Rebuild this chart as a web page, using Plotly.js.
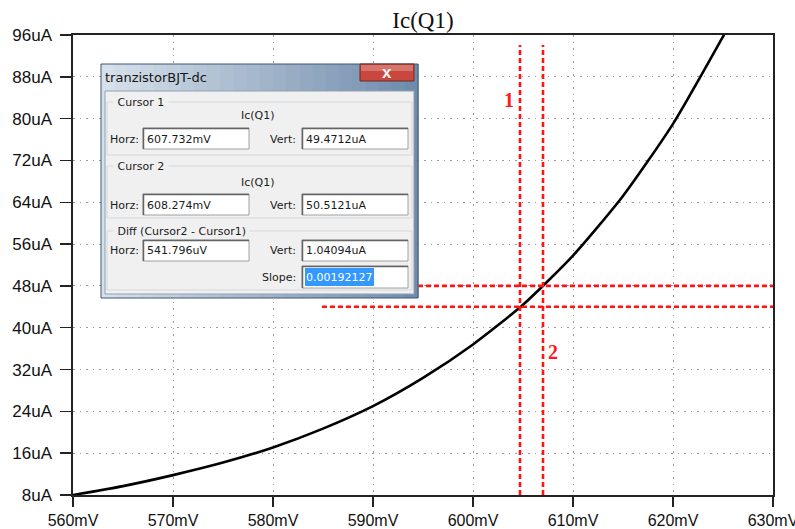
<!DOCTYPE html>
<html>
<head>
<meta charset="utf-8">
<script src="https://cdn.plot.ly/plotly-3.0.1.min.js"></script>
<style>
html,body{margin:0;padding:0;background:#fff;}
#chart{width:795px;height:529px;}
</style>
</head>
<body>
<div id="chart"></div>
<script>
// ---- data ----
const vbe_mV = [560, 565, 570, 575, 580, 585, 590, 595, 600, 605, 610, 615, 620, 625, 627];
const ic_uA  = [8.0, 9.7, 11.8, 14.2, 17.1, 20.7, 25.0, 30.4, 36.8, 44.4, 53.8, 65.2, 79.0, 95.7, 102.7];

const xTickVals = [560, 570, 580, 590, 600, 610, 620, 630];
const xTickText = ['560mV','570mV','580mV','590mV','600mV','610mV','620mV','630mV'];
const yTickVals = [8, 16, 24, 32, 40, 48, 56, 64, 72, 80, 88, 96];
const yTickText = ['8uA','16uA','24uA','32uA','40uA','48uA','56uA','64uA','72uA','80uA','88uA','96uA'];

// cursor lines (as drawn on the picture)
const cursorX = [604.7, 607.0];        // mV, vertical dashed lines
const cursorXTop = 94.1;               // uA, top end of vertical lines
const cursorY = [48.0, 44.0];          // uA, horizontal dashed lines
const cursorYStart = 584.9;            // mV, left end of horizontal lines
const cursorLabels = ['1', '2'];
const cursorLabelX = [603.6, 608.0];
const cursorLabelY = [83.6, 35.4];

// dialog texts
const dlgTitle = 'tranzistorBJT-dc';
const groupNames = ['Cursor 1', 'Cursor 2', 'Diff (Cursor2 - Cursor1)'];
const horzValues = ['607.732mV', '608.274mV', '541.796uV'];
const vertValues = ['49.4712uA', '50.5121uA', '1.04094uA'];
const slopeValue = '0.00192127';
const traceName = 'Ic(Q1)';

// ---- pixel helpers for the overlay window ----
const L = 73, R = 773, T = 35, B = 495;
const px = x => (x - L) / (R - L);
const py = y => (B - y) / (B - T);
const UI = 'DejaVu Sans, Liberation Sans, sans-serif';

const shapes = [];
const annotations = [];
function rect(x0, y0, x1, y1, fill, line, lw) {
  shapes.push({type:'rect', xref:'paper', yref:'paper', layer:'above',
    x0:px(x0), x1:px(x1), y0:py(y1), y1:py(y0),
    fillcolor:fill, line:{color:line || 'rgba(0,0,0,0)', width: lw === undefined ? 1 : lw}});
}
function seg(x0, y0, x1, y1, color, lw) {
  shapes.push({type:'line', xref:'paper', yref:'paper', layer:'above',
    x0:px(x0), x1:px(x1), y0:py(y0), y1:py(y1), line:{color:color, width:lw}});
}
function txt(x, y, s, opts) {
  opts = opts || {};
  annotations.push(Object.assign({xref:'paper', yref:'paper', x:px(x), y:py(y), text:s,
    showarrow:false, xanchor:'left', yanchor:'middle', borderpad:0,
    font:{family:UI, size:11, color:'#1a1a1a'}}, opts));
}
function lerp(a, b, t) { return Math.round(a + (b - a) * t); }
function mix(c1, c2, t) {
  return 'rgb(' + lerp(c1[0],c2[0],t) + ',' + lerp(c1[1],c2[1],t) + ',' + lerp(c1[2],c2[2],t) + ')';
}

// window frame with horizontal gradient (Aero basic look)
const DX0 = 101, DX1 = 418, DY0 = 64, DY1 = 298;
const cA = [214, 224, 234], cB = [112, 140, 172];
const nStripes = 24;
for (let i = 0; i < nStripes; i++) {
  const xa = DX0 + (DX1 - DX0) * i / nStripes;
  const xb = DX0 + (DX1 - DX0) * (i + 1) / nStripes + 0.6;
  rect(xa, DY0, xb, DY1, mix(cA, cB, i / (nStripes - 1)), 'rgba(0,0,0,0)', 0);
}
rect(DX0, DY0, DX1, DY1, 'rgba(0,0,0,0)', '#3f5670', 1);
// client area
rect(105, 91, 414, 294, '#f0f0f0', '#8fa0b4', 1);
// close button
rect(360, 64, 414, 81, '#c9473c', '#6e2a22', 1);
rect(361, 65, 413, 71, 'rgba(255,255,255,0.25)', 'rgba(0,0,0,0)', 0);
txt(387, 72, '<b>x</b>', {xanchor:'center', font:{family:'Liberation Sans, Arial', size:17, color:'#f4f4f4'}});
txt(104, 77, dlgTitle, {font:{family:UI, size:13, color:'#151515'}});

// group boxes
const groups = [[102, 155], [166, 218], [231, 290]];
groups.forEach((g, i) => {
  rect(107, g[0], 412, g[1], 'rgba(0,0,0,0)', '#d3d9df', 1);
  txt(113, g[0], ' ' + groupNames[i] + ' ', {bgcolor:'#f0f0f0'});
});
txt(258, 115, traceName, {xanchor:'center'});
txt(258, 182, traceName, {xanchor:'center'});

// edit boxes
const rows = [[128, 149], [194, 215], [240, 261]];
function editBox(x0, y0, x1, y1) {
  rect(x0, y0, x1, y1, '#ffffff', '#a0a0a0', 1);
  seg(x0, y0 + 0.5, x1, y0 + 0.5, '#646464', 1.5);
  seg(x0 + 0.5, y0, x0 + 0.5, y1, '#646464', 1.5);
}
rows.forEach((r, i) => {
  editBox(143, r[0], 249, r[1]);
  editBox(302, r[0], 408, r[1]);
  const yc = (r[0] + r[1]) / 2 + 0.5;
  txt(109, yc, 'Horz:');
  txt(297, yc, 'Vert:', {xanchor:'right'});
  txt(146, yc, horzValues[i]);
  txt(305, yc, vertValues[i]);
});
editBox(302, 266, 408, 288);
rect(305, 268, 374, 286, '#3399ff', 'rgba(0,0,0,0)', 0);
txt(297, 277.5, 'Slope:', {xanchor:'right'});
txt(305, 277.5, slopeValue, {font:{family:UI, size:11, color:'#ffffff'}});

// cursor number labels (data coords)
cursorLabels.forEach((s, i) => {
  annotations.push({xref:'x', yref:'y', x:cursorLabelX[i], y:cursorLabelY[i], text:'<b>' + s + '</b>',
    showarrow:false, xanchor:'center', yanchor:'middle',
    font:{family:'Liberation Serif, Times New Roman, serif', size:20, color:'#ff1a1a'}});
});

// ---- traces ----
const traces = [];
traces.push({x:vbe_mV, y:ic_uA, type:'scatter', mode:'lines',
  line:{color:'#000000', width:2.6, shape:'spline', smoothing:0.6}, hoverinfo:'skip'});
cursorX.forEach(cx => {
  traces.push({x:[cx, cx], y:[yTickVals[0], cursorXTop], type:'scatter', mode:'lines',
    line:{color:'#ff1414', width:2.6, dash:'5px,3px'}, hoverinfo:'skip'});
});
cursorY.forEach(cy => {
  traces.push({x:[cursorYStart, xTickVals[xTickVals.length - 1]], y:[cy, cy], type:'scatter', mode:'lines',
    line:{color:'#ff1414', width:2.6, dash:'5px,3px'}, hoverinfo:'skip'});
});

const xFont = {family:'Liberation Sans, Arial, sans-serif', size:16, color:'#111111'};
const yFont = {family:'Liberation Sans, Arial, sans-serif', size:17, color:'#111111'};
const layout = {
  width:795, height:529,
  margin:{l:73, r:22, t:35, b:34, pad:0},
  paper_bgcolor:'#ffffff', plot_bgcolor:'#ffffff',
  showlegend:false,
  title:{text:'Ic(Q1)', x:0.5, xref:'paper', xanchor:'center', y:1 - 20/529, yref:'container', yanchor:'middle',
    font:{family:'Liberation Serif, Times New Roman, serif', size:23, color:'#111111'}},
  xaxis:{range:[560, 630.0001], tickvals:xTickVals, ticktext:xTickText, ticks:'outside', ticklen:10,
    tickcolor:'#222', tickwidth:1.5, showline:true, mirror:true, linecolor:'#222', linewidth:1.6,
    showgrid:true, gridcolor:'#9a9a9a', gridwidth:1, griddash:'1.5px,5px', zeroline:false,
    tickfont:xFont, ticklabeloverflow:'allow', fixedrange:true},
  yaxis:{range:[8, 96], tickvals:yTickVals, ticktext:yTickText, ticks:'outside', ticklen:11,
    tickcolor:'#222', tickwidth:1.5, showline:true, mirror:true, linecolor:'#222', linewidth:1.6,
    showgrid:true, gridcolor:'#9a9a9a', gridwidth:1, griddash:'1.5px,5px', zeroline:false,
    tickfont:yFont, ticklabelstandoff:5, fixedrange:true},
  shapes:shapes,
  annotations:annotations
};

Plotly.newPlot('chart', traces, layout, {staticPlot:true, displayModeBar:false});
</script>
</body>
</html>
